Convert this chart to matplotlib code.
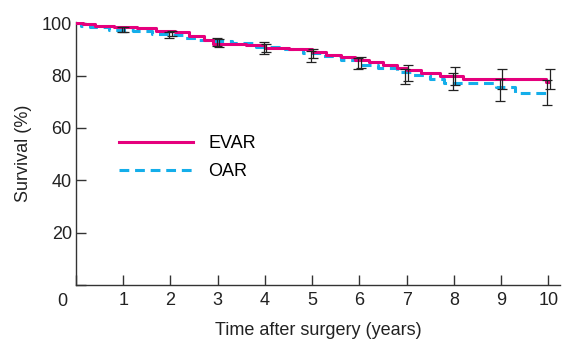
import matplotlib
matplotlib.use('Agg')
import matplotlib.pyplot as plt

# Kaplan-Meier step curves (years, survival %)
evar_t = [0, 0.15, 0.4, 0.8, 1.3, 1.7, 2.1, 2.4, 2.7, 2.9, 3.6, 4.0, 4.5, 5.0,
          5.3, 5.6, 5.9, 6.2, 6.5, 6.8, 7.0, 7.3, 7.7, 8.2, 9.95, 10.0]
evar_s = [100, 99.5, 99, 98.5, 98, 97, 96.5, 95, 93.5, 92, 91.5, 90.5, 90, 89,
          88, 87, 86, 85, 84, 83, 82, 81, 80, 78.6, 77.6, 77.6]

oar_t = [0, 0.1, 0.3, 0.7, 1.2, 1.6, 2.0, 2.3, 2.6, 2.9, 3.3, 3.8, 4.3, 4.8,
         5.2, 5.6, 6.0, 6.4, 6.8, 7.1, 7.5, 7.8, 8.9, 9.3, 10.0]
oar_s = [100, 99, 98.5, 97.5, 97, 96, 95.5, 94.5, 93.5, 93, 92.5, 91, 90, 88.5,
         87.5, 86, 84, 83, 81.2, 80.2, 78.6, 77, 75.7, 73.4, 73.4]

# yearly confidence intervals (lower, upper)
years = [1, 2, 3, 4, 5, 6, 7, 8, 9, 10]
evar_lo = [96.8, 95.0, 91.0, 89.0, 86.5, 83.0, 78.0, 76.5, 74.7, 74.7]
evar_hi = [98.6, 97.1, 93.8, 92.0, 90.1, 87.1, 84.2, 83.3, 82.3, 82.3]
oar_lo = [96.7, 94.2, 91.2, 88.4, 85.2, 82.3, 76.6, 74.3, 70.2, 68.7]
oar_hi = [98.4, 96.8, 94.2, 92.9, 89.5, 86.5, 82.4, 81.0, 78.5, 78.2]

plt.rcParams['font.family'] = ['Liberation Sans', 'DejaVu Sans']

fig = plt.figure(figsize=(5.63, 3.41), dpi=100)
ax = fig.add_axes([0.135, 0.164, 0.86, 0.772])

magenta = '#e5007d'
cyan = '#14aeea'

ax.step(evar_t, evar_s, where='post', color=magenta, lw=2.2, label='EVAR', zorder=3)
ax.step(oar_t, oar_s, where='post', color=cyan, lw=2.2, ls=(0, (3.2, 1.9)),
        label='OAR', zorder=2)


def draw_ci(xs, lo, hi, shift):
    for x, a, b in zip(xs, lo, hi):
        mid = (a + b) / 2
        ax.errorbar(x + shift, mid, yerr=[[mid - a], [b - mid]], fmt='none',
                    ecolor='#222222', elinewidth=0.9, capsize=3.3, capthick=0.9,
                    zorder=4)


draw_ci(years, oar_lo, oar_hi, -0.025)
draw_ci(years, evar_lo, evar_hi, 0.025)

ax.set_xlim(0, 10.25)
ax.set_ylim(0, 100.5)
ax.set_xticks(range(0, 11))
ax.set_xticklabels([''] + [str(i) for i in range(1, 11)])
ax.set_yticks([0, 20, 40, 60, 80, 100])
ax.set_yticklabels(['', '20', '40', '60', '80', '100'])
ax.annotate('0', xy=(0, 0), xytext=(-10, -12), textcoords='offset points',
            ha='center', va='center', fontsize=13, color='#222222')

ax.tick_params(direction='in', length=7, width=1, colors='#333333',
               labelcolor='#222222', labelsize=13)
ax.tick_params(axis='x', pad=5)
ax.tick_params(axis='y', pad=3)
for s in ['top', 'right']:
    ax.spines[s].set_visible(False)
for s in ['left', 'bottom']:
    ax.spines[s].set_color('#333333')
    ax.spines[s].set_linewidth(1)

ax.set_xlabel('Time after surgery (years)', fontsize=13, color='#222222', labelpad=9)
ax.set_ylabel('Survival (%)', fontsize=13, color='#222222', labelpad=7)

ax.legend(loc='upper left', bbox_to_anchor=(0.089, 0.57), frameon=False,
          fontsize=13, handlelength=4.1, handletextpad=0.85, labelspacing=0.6,
          borderpad=0, borderaxespad=0)

fig.savefig('out.png', dpi=100)
